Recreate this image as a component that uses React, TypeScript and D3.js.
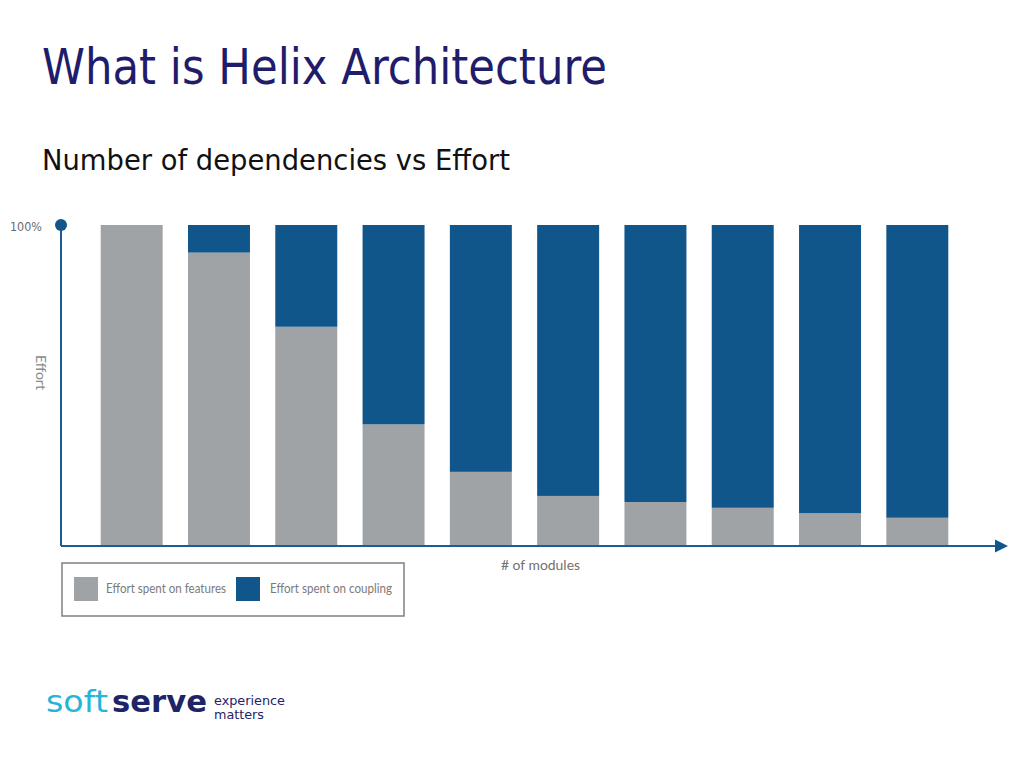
import React from "react";
import * as d3 from "d3";

const modules = ["1", "2", "3", "4", "5", "6", "7", "8", "9", "10"];
const featureEffort = [100, 91.4, 68.3, 37.9, 23.1, 15.6, 13.7, 11.9, 10.2, 8.8];
const couplingEffort = [0, 8.6, 31.7, 62.1, 76.9, 84.4, 86.3, 88.1, 89.8, 91.2];
const seriesKeys = ["features", "coupling"];
const seriesLabels = ["Effort spent on features", "Effort spent on coupling"];
const seriesColors = ["#a0a3a6", "#11568a"];
const yTickLabel = "100%";

const W = 1024;
const H = 768;
const AXIS = "#1d5c97";

export default function App() {
  const rows = modules.map((m, i) => ({
    module: m,
    features: featureEffort[i],
    coupling: couplingEffort[i],
  }));
  const stacked = d3.stack<any>().keys(seriesKeys)(rows);

  const x = d3
    .scaleBand<string>()
    .domain(modules)
    .range([100.7, 948.3])
    .paddingInner(0.29)
    .paddingOuter(0);
  const y = d3.scaleLinear().domain([0, 100]).range([546, 225]);

  const x0 = 61;
  const yBase = y(0);
  const yTop = y(100);

  return (
    <svg
      width={W}
      height={H}
      style={{ position: "absolute", left: 0, top: 0, background: "#fff" }}
    >
      {/* Titles */}
      <text
        x={42}
        y={84}
        fill="#1f1d6b"
        fontFamily="DejaVu Sans"
        fontSize={50}
        textLength={565}
        lengthAdjust="spacingAndGlyphs"
      >
        What is Helix Architecture
      </text>
      <text
        x={42}
        y={170}
        fill="#111"
        fontFamily="DejaVu Sans"
        fontSize={29}
        textLength={468}
        lengthAdjust="spacingAndGlyphs"
      >
        Number of dependencies vs Effort
      </text>

      {/* Bars */}
      {stacked.map((s, si) => (
        <g key={s.key} fill={seriesColors[si]}>
          {s.map((d, i) => {
            const h = y(d[0]) - y(d[1]);
            if (h <= 0) return null;
            return (
              <rect
                key={i}
                x={x(modules[i])}
                y={y(d[1])}
                width={x.bandwidth()}
                height={h}
              />
            );
          })}
        </g>
      ))}

      {/* Axes */}
      <line x1={x0} y1={yTop} x2={x0} y2={yBase} stroke={AXIS} strokeWidth={2} />
      <circle cx={x0} cy={yTop} r={6} fill="#11568a" />
      <line x1={x0} y1={yBase} x2={997} y2={yBase} stroke={AXIS} strokeWidth={2} />
      <path
        d={`M995,${yBase - 6.5} L1008,${yBase} L995,${yBase + 6.5} Z`}
        fill="#11568a"
      />

      <text
        x={42}
        y={yTop + 2}
        dy="0.35em"
        textAnchor="end"
        fill="#6b6b6b"
        fontFamily="DejaVu Sans"
        fontSize={11.5}
        textLength={32}
        lengthAdjust="spacingAndGlyphs"
      >
        {yTickLabel}
      </text>
      <text
        transform="translate(36,355) rotate(90)"
        fill="#8a8a8a"
        fontFamily="Lato"
        fontSize={13}
        textLength={35}
        lengthAdjust="spacingAndGlyphs"
      >
        Effort
      </text>
      <text
        x={501}
        y={570}
        fill="#707070"
        fontFamily="Lato"
        fontSize={13.5}
        textLength={79}
        lengthAdjust="spacingAndGlyphs"
      >
        # of modules
      </text>

      {/* Legend */}
      <rect
        x={62}
        y={563}
        width={342}
        height={53}
        fill="#fff"
        stroke="#808080"
        strokeWidth={1.5}
      />
      {seriesLabels.map((lbl, i) => {
        const sx = i === 0 ? 74 : 236;
        const tx = i === 0 ? 106 : 270;
        const tl = i === 0 ? 120 : 122;
        return (
          <g key={lbl}>
            <rect x={sx} y={577} width={24} height={24} fill={seriesColors[i]} />
            <text
              x={tx}
              y={593}
              fill="#7a7a7a"
              fontFamily="Lato"
              fontSize={13}
              textLength={tl}
              lengthAdjust="spacingAndGlyphs"
            >
              {lbl}
            </text>
          </g>
        );
      })}

      {/* Logo */}
      <text
        x={46}
        y={712}
        fill="#27b4d9"
        fontFamily="DejaVu Sans"
        fontSize={31}
        textLength={62}
        lengthAdjust="spacingAndGlyphs"
      >
        soft
      </text>
      <text
        x={112}
        y={712}
        fill="#1e2468"
        fontFamily="DejaVu Sans"
        fontWeight="bold"
        fontSize={30}
        textLength={95}
        lengthAdjust="spacingAndGlyphs"
      >
        serve
      </text>
      <text
        x={214}
        y={705}
        fill="#1e2468"
        fontFamily="DejaVu Sans"
        fontSize={13}
        textLength={71}
        lengthAdjust="spacingAndGlyphs"
      >
        experience
      </text>
      <text
        x={214}
        y={719}
        fill="#1e2468"
        fontFamily="DejaVu Sans"
        fontSize={13}
        textLength={50}
        lengthAdjust="spacingAndGlyphs"
      >
        matters
      </text>
    </svg>
  );
}
